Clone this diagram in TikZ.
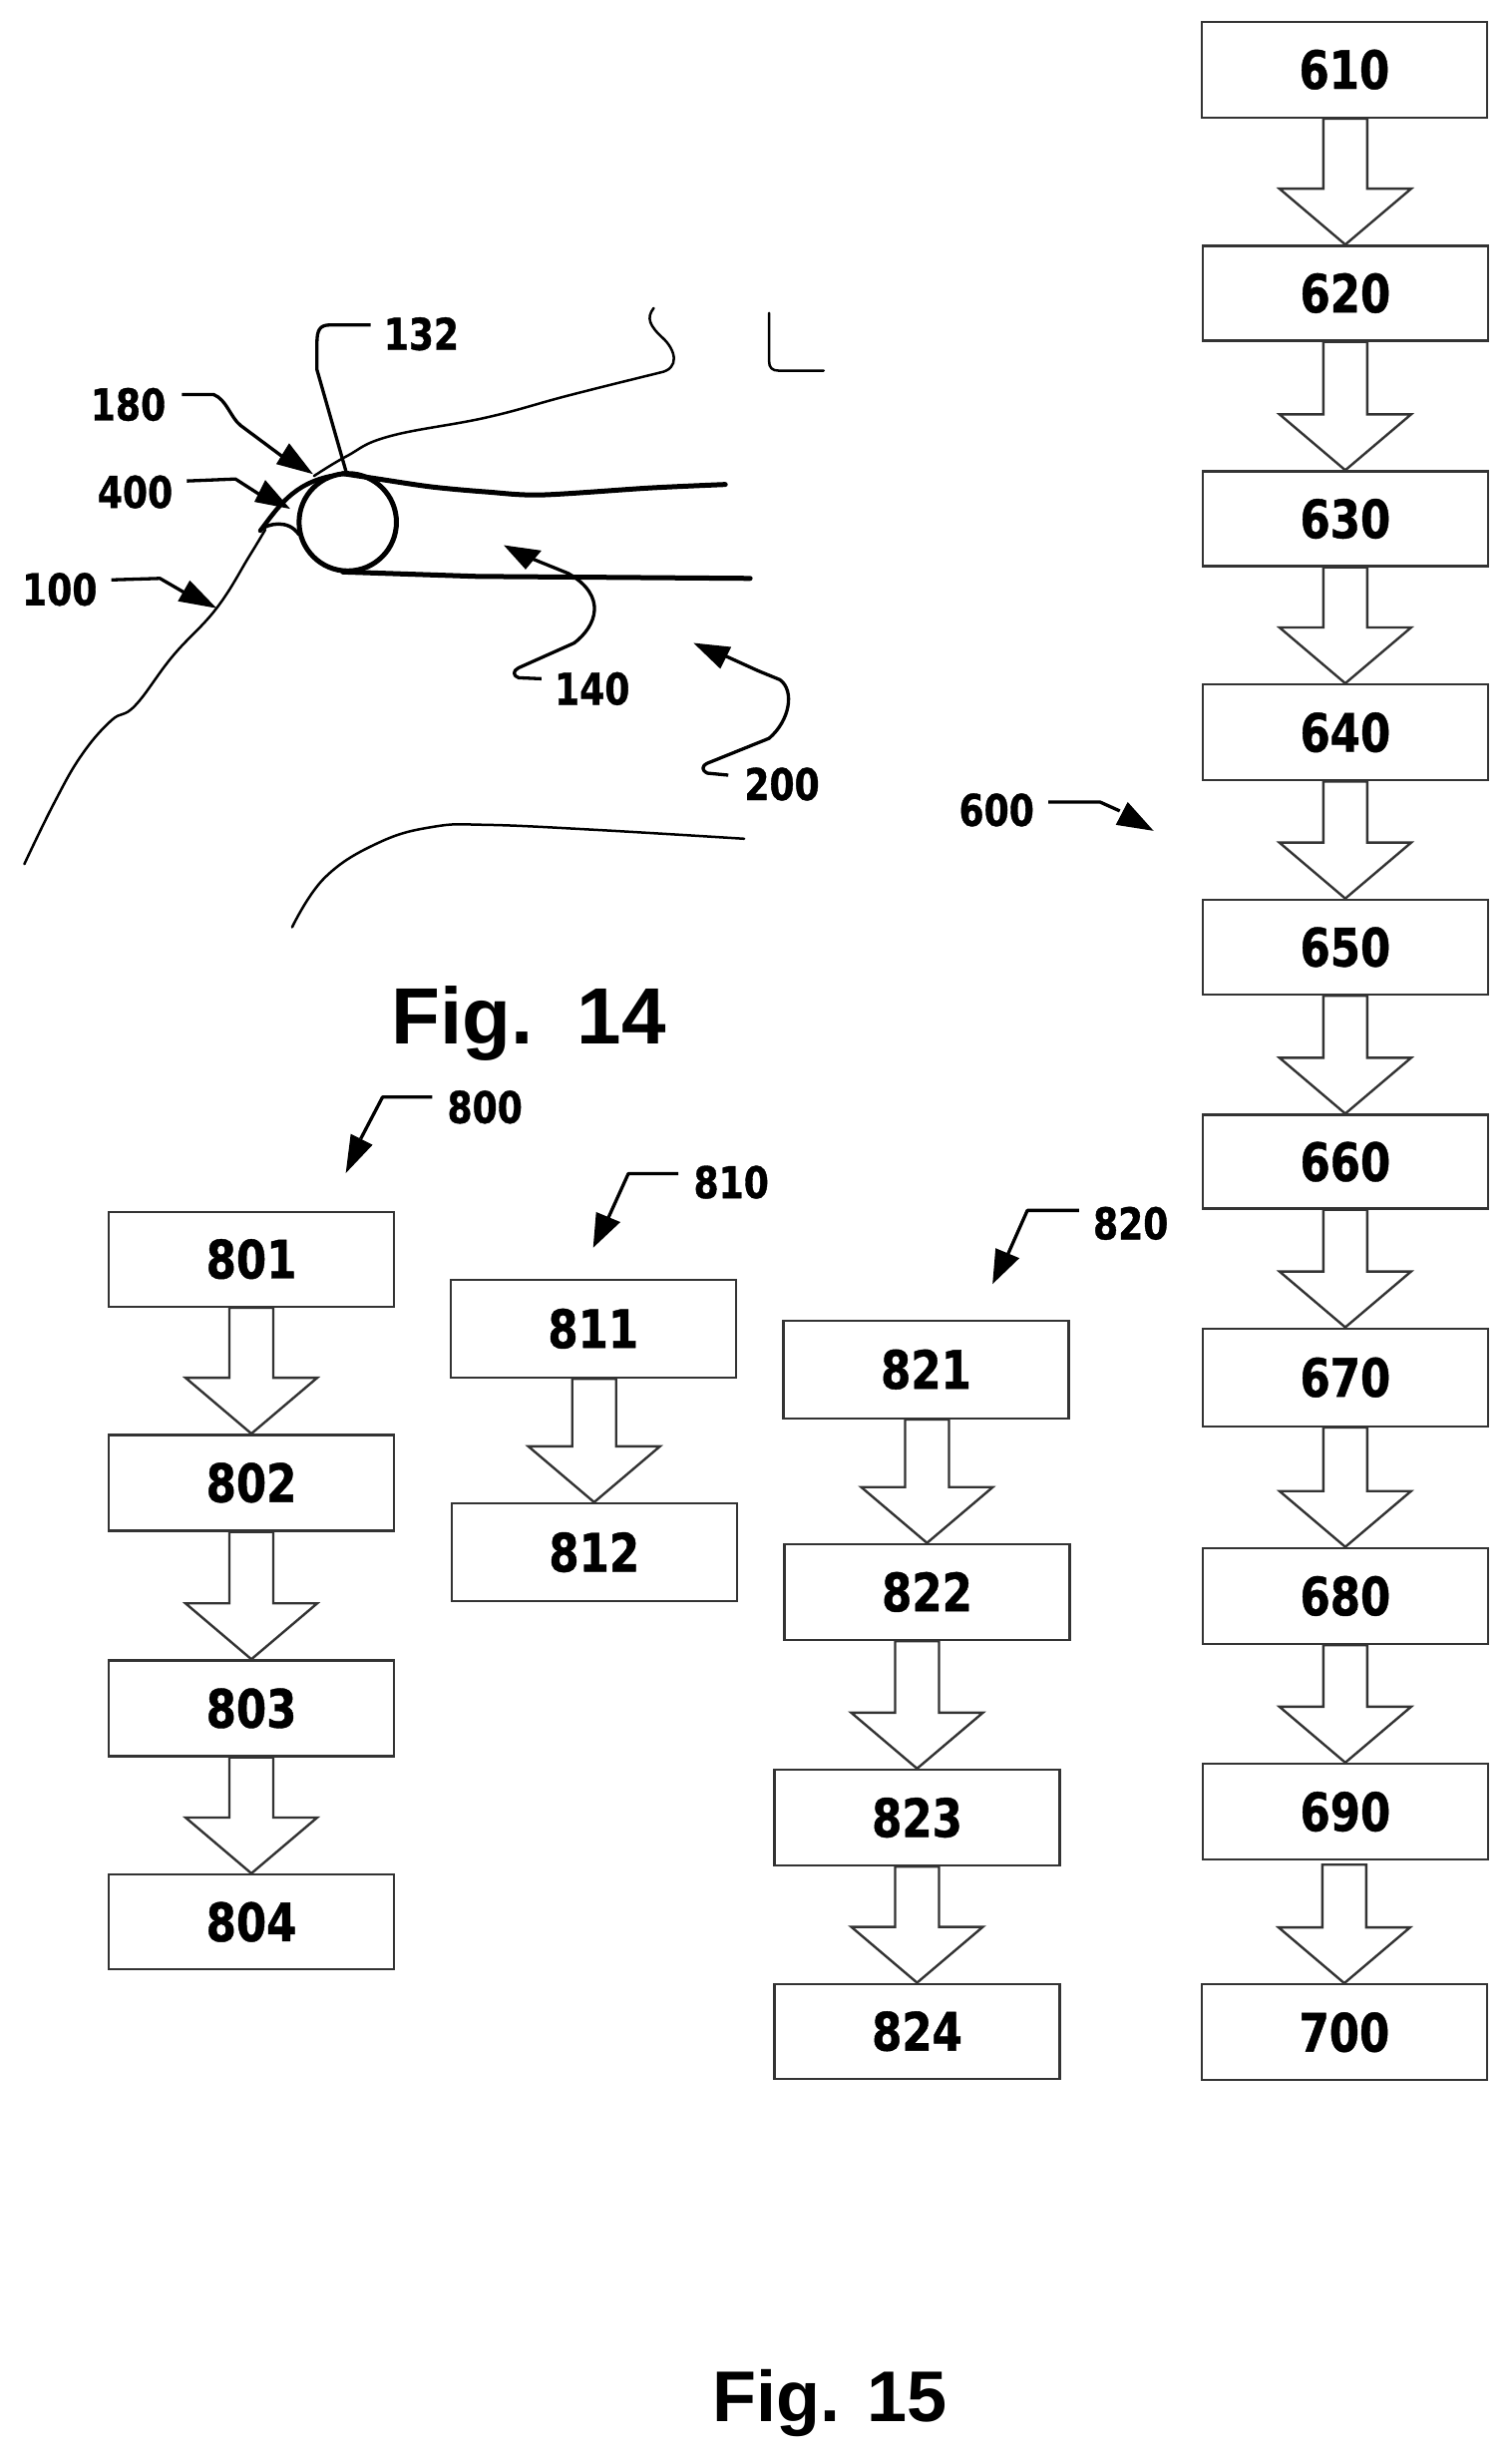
\documentclass[tikz,border=0pt]{standalone}
\usepackage{fontspec}
\usetikzlibrary{calc}
\newfontfamily\boxfont[FakeStretch=0.82,FakeBold=0.8]{DejaVu Sans Bold}
\newfontfamily\figfont{Liberation Sans Bold}
\tikzset{
 box/.style={draw=black!80,line width=2.4pt,fill=white,minimum width=#1,minimum height=96pt,inner sep=0pt,font=\boxfont\fontsize{53}{60}\selectfont},
 box/.default=286pt,
 flow/.style={draw=black!80,line width=2.4pt,fill=white,line join=miter},
 lab/.style={inner sep=0pt,font=\boxfont\fontsize{44}{50}\selectfont},
 figlab/.style={inner sep=0pt,font=\figfont},
 anat/.style={line width=2.5pt,line cap=round,line join=round},
 thick5/.style={line width=5pt,line cap=round},
 lead/.style={line width=3.3pt,line join=round},
 tip/.style={fill=black,draw=none}
}
\newcommand{\blockflow}[3][0pt]{%
 \draw[flow] let \p1=(#2.south),\p2=(#3.north) in
  (\x2-22pt,\y1-#1) -- (\x2-22pt,\y2+56pt) -- (\x2-66pt,\y2+56pt) -- (\x2,\y2)
  -- (\x2+66pt,\y2+56pt) -- (\x2+22pt,\y2+56pt) -- (\x2+22pt,\y1-#1) -- cycle;}
\begin{document}
\begin{tikzpicture}[x=0.9962pt,y=-0.9962pt]
\useasboundingbox (0,0) rectangle (1520.8,2473.4);
% column 600
\foreach \n/\x/\y/\h in {610/1353/70/96,620/1354/295/95,630/1354/522/95,640/1354/737/96,650/1354/953/95,660/1354/1169/94,670/1354/1386/98,680/1354/1606/96,690/1354/1823/96,700/1353/2045/96}{
 \node[box,minimum height=\h pt] (b\n) at (\x,\y) {\n};}
\foreach \n/\x/\y/\h in {801/253/1267/95,802/253/1492/96,803/253/1719/96,804/253/1934/95,811/597/1337/98,812/598/1562/98}{
 \node[box,minimum height=\h pt] (b\n) at (\x,\y) {\n};}
\foreach \n/\x/\y/\h in {821/932/1378/98,822/933/1602/96,823/923/1829/96,824/923/2044/95}{
 \node[box,minimum height=\h pt] (b\n) at (\x,\y) {\n};}
\blockflow{b610}{b620}\blockflow{b620}{b630}\blockflow{b630}{b640}\blockflow{b640}{b650}
\blockflow{b650}{b660}\blockflow{b660}{b670}\blockflow{b670}{b680}\blockflow{b680}{b690}\blockflow[4pt]{b690}{b700}
\blockflow{b801}{b802}\blockflow{b802}{b803}\blockflow{b803}{b804}
\blockflow{b811}{b812}
\blockflow{b821}{b822}\blockflow{b822}{b823}\blockflow{b823}{b824}
% anatomy
\draw[anat] plot[smooth,tension=0.7] coordinates {(24.5,869.5)(54.5,808)(82,760)(112,725)(136,710)(174,660)(218,612)(251,559.5)(267,533)};
\draw[line width=4.5pt,line cap=round] (262,534) .. controls (280,510) and (295,487) .. (333,479);
\draw[anat] plot[smooth,tension=0.7] coordinates {(316,479)(349,459)(392,439)(490,420)(572,398)(664,375)};
\draw[anat] (664,375) .. controls (685,371) and (680,352) .. (667,340) .. controls (654,328) and (650,320) .. (658,310);
\draw[anat] (774,315) -- (774,363) .. controls (774,370) and (777,373) .. (784,373) -- (829,373);
\draw[line width=5pt,fill=white] (350,525.5) circle (49);
\draw[thick5] plot[smooth,tension=0.5] coordinates {(345,476.5)(381,482)(435,490)(490,495)(545,498)(654,491)(730,487.5)};
\draw[thick5] (345,575.5) -- (480,580) -- (755,582);
\draw[line width=3.5pt] (262,533) .. controls (270,527) and (290,522) .. (301,538);
\draw[anat] plot[smooth,tension=0.7] coordinates {(294,933)(327,883)(381,848)(436,832)(490,830)(599,835)(749,844)};
% leaders
\draw[lead] (373,327) -- (332,327) .. controls (322,327) and (319,332) .. (319,345) -- (319,372) -- (349,477);
\draw[lead] (183,397) -- (215,397) .. controls (228,402) and (232,420) .. (242,428) -- (285,460);
\fill[tip] (315,477) -- (291,446) -- (278,467) -- cycle;
\draw[lead] (188,484) -- (237,482) -- (265,500);
\fill[tip] (292,512) -- (267,483) -- (256,505) -- cycle;
\draw[lead] (112,583.5) -- (161,582) -- (192,600);
\fill[tip] (218,612) -- (191,584) -- (179,605) -- cycle;
\draw[lead] (545,683) -- (522,682) .. controls (516,680) and (516,675) .. (522,672) -- (578,647) .. controls (600,630) and (612,600) .. (572,577) -- (535,562);
\fill[tip] (507,548.6) -- (545,554) -- (529,573) -- cycle;
\draw[lead] (733,780) -- (712,778) .. controls (706,775) and (706,771) .. (712,768) -- (774,743) .. controls (795,725) and (800,695) .. (785,684) -- (763,675) -- (730,660);
\fill[tip] (698,647) -- (736,651) -- (725,673) -- cycle;
\draw[lead] (1055,807) -- (1107,807) -- (1127,816);
\fill[tip] (1161,836) -- (1135,807) -- (1123,830) -- cycle;
\draw[lead] (435,1104) -- (385,1104) -- (363,1146);
\fill[tip] (348,1180.5) -- (353,1141) -- (375,1152) -- cycle;
\draw[lead] (682.6,1181) -- (632.4,1181) -- (612,1226);
\fill[tip] (597,1255.5) -- (600,1219.6) -- (624.4,1229.7) -- cycle;
\draw[lead] (1086,1218) -- (1034,1218) -- (1014,1263);
\fill[tip] (999,1292) -- (1002,1256) -- (1026,1266) -- cycle;
% labels
\node[lab] (l132) at (424,336) {132};
\node[lab] (l180) at (129,407) {180};
\node[lab] (l400) at (136,495) {400};
\node[lab] (l100) at (60,593) {100};
\node[lab] (l140) at (596,693) {140};
\node[lab] (l200) at (787,789) {200};
\node[lab] (l600) at (1003,815) {600};
\node[lab] (l800) at (488,1114) {800};
\node[lab] (l810) at (736,1189.6) {810};
\node[lab] (l820) at (1138,1231) {820};
\node[figlab,font=\figfont\fontsize{80}{90}\selectfont] (f14) at (532,1030) {Fig.\ \ 14};
\node[figlab,font=\figfont\fontsize{72}{80}\selectfont] (f15) at (835,2418) {Fig. 15};
\end{tikzpicture}
\end{document}
